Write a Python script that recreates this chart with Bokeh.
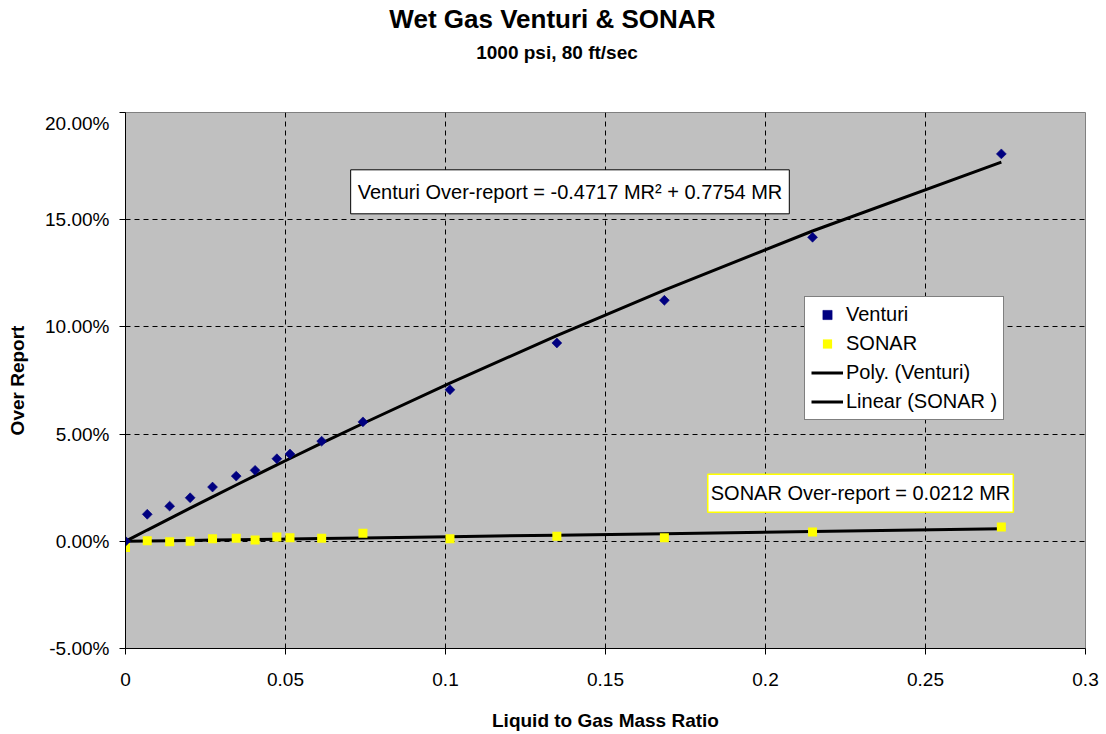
import numpy as np
from bokeh.plotting import figure
from bokeh.layouts import column
from bokeh.models import (FixedTicker, Label, Legend, LegendItem, Range1d)
from bokeh.embed import file_html
from bokeh.resources import INLINE

# ---- data ----
mr = [0.0, 0.0068, 0.0138, 0.0202, 0.0272, 0.0346, 0.0405, 0.0473, 0.0514,
      0.0613, 0.0742, 0.1014, 0.1348, 0.1684, 0.2147, 0.2737]
venturi = [0.0, 0.0126, 0.0164, 0.0203, 0.0253, 0.0304, 0.0331, 0.0385, 0.0407,
           0.0467, 0.0557, 0.0707, 0.0925, 0.1124, 0.1418, 0.1807]
sonar = [-0.0029, 0.0002, -0.0002, 0.0000, 0.0012, 0.0014, 0.0006, 0.0020, 0.0017,
         0.0014, 0.0037, 0.0012, 0.0023, 0.0017, 0.0043, 0.0067]

# trend line coefficients (as printed on the chart)
poly_a, poly_b = -0.4717, 0.7754
lin_k = 0.0212

x_ticks = [0.0, 0.05, 0.1, 0.15, 0.2, 0.25, 0.3]
x_tick_labels = ["0", "0.05", "0.1", "0.15", "0.2", "0.25", "0.3"]
y_ticks = [-0.05, 0.0, 0.05, 0.10, 0.15, 0.20]
y_tick_labels = ["-5.00%", "0.00%", "5.00%", "10.00%", "15.00%", "20.00%"]

title = "Wet Gas Venturi  & SONAR"
subtitle = "1000 psi, 80 ft/sec"
x_label = "Liquid to Gas Mass Ratio"
y_label = "Over Report"
venturi_eq = "Venturi Over-report = -0.4717 MR\u00b2 + 0.7754 MR"
sonar_eq = "SONAR Over-report = 0.0212 MR"

FONT = "Liberation Sans"
W, H_TOP, H_MAIN = 1106, 112, 622
FRAME_L, FRAME_R = 125, 1085   # page x of the plot frame

# trend lines evaluated at the measured x values
mr_arr = np.array(mr)
poly_y = poly_a * mr_arr ** 2 + poly_b * mr_arr
lin_y = lin_k * mr_arr

# ---------- title strip (its frame is aligned with the chart frame) ----------
tf = figure(width=W, height=H_TOP, output_backend="svg", toolbar_location=None,
            x_range=Range1d(FRAME_L, FRAME_R), y_range=Range1d(H_TOP, 0),
            x_axis_location=None, y_axis_location=None,
            min_border=0, min_border_left=0, min_border_right=0,
            min_border_top=0, min_border_bottom=0, title=None)
tf.grid.visible = False
tf.outline_line_color = None
tf.background_fill_color = "white"
tf.border_fill_color = "white"
tf.add_layout(Label(x=555.5, y=18.7, text=title, text_align="center",
                    text_baseline="middle", text_font=FONT,
                    text_font_size="26px", text_font_style="bold",
                    text_color="black"))
tf.add_layout(Label(x=556.5, y=51.7, text=subtitle, text_align="center",
                    text_baseline="middle", text_font=FONT,
                    text_font_size="19px", text_font_style="bold",
                    text_color="black"))

# ---------- main chart ----------
p = figure(width=W, height=H_MAIN, output_backend="svg", toolbar_location=None,
           x_range=Range1d(0, 0.3), y_range=Range1d(-0.05, 0.20),
           min_border_left=125, min_border_right=21, min_border_top=0,
           min_border_bottom=86, title=None)
p.background_fill_color = "#C0C0C0"
p.border_fill_color = "white"
p.outline_line_color = "#808080"
p.outline_line_width = 1

# axes
p.xaxis.ticker = FixedTicker(ticks=x_ticks)
p.xaxis.major_label_overrides = dict(zip(x_ticks, x_tick_labels))
p.yaxis.ticker = FixedTicker(ticks=y_ticks)
p.yaxis.major_label_overrides = dict(zip(y_ticks, y_tick_labels))
for ax in (p.xaxis, p.yaxis):
    ax.axis_line_color = "black"
    ax.major_tick_line_color = "black"
    ax.major_tick_in = 0
    ax.major_tick_out = 6
    ax.minor_tick_line_color = None
    ax.major_label_text_font = FONT
    ax.major_label_text_font_size = "19px"
    ax.major_label_text_color = "black"
    ax.axis_label_text_font = FONT
    ax.axis_label_text_font_size = "19px"
    ax.axis_label_text_font_style = "bold"
    ax.axis_label_text_color = "black"
p.xaxis.axis_label = x_label
p.yaxis.axis_label = y_label
p.xaxis.major_label_standoff = 18
p.xaxis.axis_label_standoff = 21
p.yaxis.major_label_standoff = 10
p.yaxis.axis_label_standoff = 14

# grid
p.xgrid.ticker = FixedTicker(ticks=x_ticks[1:-1])
p.ygrid.ticker = FixedTicker(ticks=y_ticks[1:-1])
for g in (p.xgrid, p.ygrid):
    g.grid_line_color = "black"
    g.grid_line_dash = "5 4"
    g.grid_line_width = 1

# trend lines
r_poly = p.line(mr, poly_y, line_color="black", line_width=3)
r_lin = p.line(mr, lin_y, line_color="black", line_width=3)

# points
r_son = p.scatter(mr, sonar, marker="square", size=9, fill_color="#FFFF00",
                  line_color=None)
r_ven = p.scatter(mr, venturi, marker="square", angle=np.pi / 4, size=7,
                  fill_color="#000080", line_color="#000080", line_width=0.6)

# legend
legend = Legend(items=[
    LegendItem(label="Venturi", renderers=[r_ven]),
    LegendItem(label="SONAR", renderers=[r_son]),
    LegendItem(label="Poly. (Venturi)", renderers=[r_poly]),
    LegendItem(label="Linear (SONAR )", renderers=[r_lin]),
], location=(679, 228))
legend.label_text_font = FONT
legend.label_text_font_size = "20px"
legend.label_text_color = "black"
legend.glyph_width = 32
legend.glyph_height = 23
legend.label_height = 23
legend.label_standoff = 3
legend.spacing = 6
legend.padding = 6
legend.margin = 0
legend.border_line_color = "black"
legend.border_line_width = 1
legend.background_fill_color = "white"
legend.background_fill_alpha = 1
p.add_layout(legend, "center")

# equation boxes
lab_v = Label(x=0.1389, y=0.1630, text=venturi_eq, text_align="center",
              text_baseline="middle", text_font=FONT, text_font_size="20px",
              text_color="black", background_fill_color="white",
              border_line_color="black", border_line_width=1,
              padding=dict(left=7, right=7, top=11, bottom=11))
lab_s = Label(x=0.2297, y=0.0224, text=sonar_eq, text_align="center",
              text_baseline="middle", text_font=FONT, text_font_size="20px",
              text_color="black", background_fill_color="white",
              border_line_color="#FFFF00", border_line_width=1.5,
              padding=dict(left=3, right=3, top=8, bottom=8))
p.add_layout(lab_v)
p.add_layout(lab_s)

layout = column(tf, p, spacing=0)
open("out.html", "w").write(file_html(layout, INLINE))
